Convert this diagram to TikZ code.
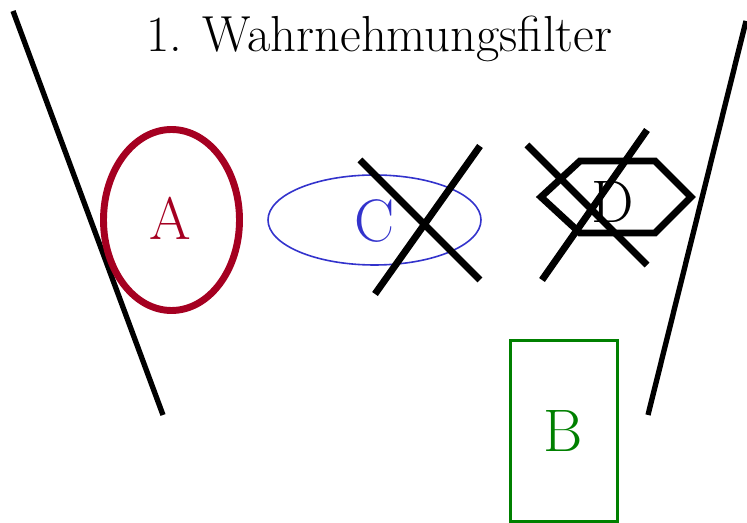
\documentclass[tikz,border=0pt]{standalone}
\usepackage{fontspec}
\usetikzlibrary{shapes.geometric}
\definecolor{darkred}{HTML}{A50021}
\definecolor{dgreen}{HTML}{008000}
\definecolor{cblue}{HTML}{3333CC}
\tikzset{
  funnel/.style={line width=4pt, black},
  crossline/.style={line width=5.2pt, black},
  letter/.style={inner sep=0pt, anchor=base, font=\fontsize{45}{50}\selectfont},
}
\begin{document}
\begin{tikzpicture}[x=0.75pt, y=-0.75pt]
\useasboundingbox (0,0) rectangle (747,523);
% title
\node[inner sep=0pt, anchor=base, font=\fontsize{38}{42}\selectfont] (title) at (379.5,52) {1. Wahrnehmungsfilter};
% funnel
\coordinate (lt) at (13,11);
\coordinate (lb) at (163,415);
\coordinate (rt) at (746,21);
\coordinate (rb) at (648,415);
\draw[funnel] (lt) -- (lb);
\draw[funnel] (rt) -- (rb);
% A
\draw[darkred, line width=5.2pt] (171.5,220) ellipse [x radius=68, y radius=90.5];
\node[letter, text=darkred] (A) at (170,240) {A};
% C
\draw[cblue, line width=1.2pt] (374.5,220) ellipse [x radius=106.5, y radius=45];
\node[letter, text=cblue] (C) at (375,242) {C};
\coordinate (c1a) at (360,160);
\coordinate (c1b) at (480,280);
\coordinate (c2a) at (375,294);
\coordinate (c2b) at (480,146);
\draw[crossline] (c1a) -- (c1b);
\draw[crossline] (c2a) -- (c2b);
% D
\draw[line width=5.2pt, line join=miter] (541,197) -- (580,161) -- (655,161) -- (691,197) -- (655,233) -- (580,233) -- cycle;
\node[letter] (D) at (613,223) {D};
\coordinate (d1a) at (527,145);
\coordinate (d1b) at (647,265);
\coordinate (d2a) at (647,130);
\coordinate (d2b) at (542,280);
\draw[crossline] (d1a) -- (d1b);
\draw[crossline] (d2a) -- (d2b);
% B
\draw[dgreen, line width=2.4pt] (510.5,340.5) rectangle (617.5,521.5);
\node[letter, text=dgreen] (B) at (563,452) {B};
\end{tikzpicture}
\end{document}
